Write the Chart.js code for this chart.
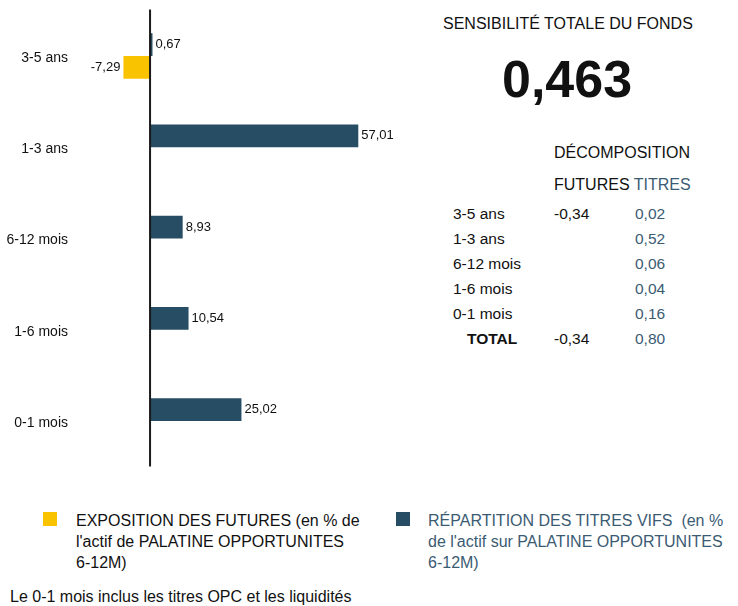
<!DOCTYPE html>
<html>
<head>
<meta charset="utf-8">
<script src="https://cdn.jsdelivr.net/npm/chart.js@4.4.0/dist/chart.umd.min.js"></script>
<style>
  body { margin: 0; width: 738px; height: 606px; background: #fff; font-family: "Liberation Sans", Arial, sans-serif; color: #111; position: relative; overflow: hidden; }
  #chartBox { position: absolute; left: 0; top: -7px; width: 424px; height: 491px; }
  .abs { position: absolute; white-space: nowrap; }
  .titres { color: #3b5b73; }
  .leg { position: absolute; font-size: 16px; line-height: 21px; }
  .sq { position: absolute; width: 14px; height: 14px; }
</style>
</head>
<body>
<div id="chartBox"><canvas id="myChart"></canvas></div>

<div class="abs" style="left:443px; top:15px; font-size:16px;">SENSIBILITÉ TOTALE DU FONDS</div>
<div class="abs" id="total" style="left:502px; top:49px; font-size:52px; font-weight:bold; line-height:60px;"></div>
<div class="abs" style="left:554px; top:144px; font-size:16px;">DÉCOMPOSITION</div>
<div class="abs" style="left:554px; top:176px; font-size:16px;">FUTURES <span class="titres">TITRES</span></div>
<div id="table"></div>

<div class="sq" style="left:43px; top:512px; background:#f9c300;"></div>
<div class="leg" style="left:76px; top:510px;">EXPOSITION DES FUTURES (en % de<br>l'actif de PALATINE OPPORTUNITES<br>6-12M)</div>
<div class="sq" style="left:396px; top:512px; background:#264d63;"></div>
<div class="leg titres" style="left:428px; top:510px;">RÉPARTITION DES TITRES VIFS&nbsp; (en %<br>de l'actif sur PALATINE OPPORTUNITES<br>6-12M)</div>
<div class="abs" style="left:10px; top:588px; font-size:16px;">Le 0-1 mois inclus les titres OPC et les liquidités</div>

<script>
const categories = ['3-5 ans', '1-3 ans', '6-12 mois', '1-6 mois', '0-1 mois'];
const titresValues = [0.67, 57.01, 8.93, 10.54, 25.02];
const futuresValues = [-7.29, null, null, null, null];

const totalSensibilite = '0,463';
const tableLabels = ['3-5 ans', '1-3 ans', '6-12 mois', '1-6 mois', '0-1 mois'];
const futuresSens = ['-0,34', '', '', '', ''];
const titresSens = ['0,02', '0,52', '0,06', '0,04', '0,16'];
const totalFutures = '-0,34';
const totalTitres = '0,80';

const fontFamily = '"Liberation Sans", Arial, sans-serif';

// panneau de droite
document.getElementById('total').textContent = totalSensibilite;
let html = '';
tableLabels.forEach((lab, i) => {
    const y = 205 + i * 25;
    html += `<div class="abs" style="left:453px; top:${y}px; font-size:15.5px;">${lab}</div>`;
    html += `<div class="abs" style="left:554px; top:${y}px; font-size:15.5px;">${futuresSens[i]}</div>`;
    html += `<div class="abs titres" style="left:635px; top:${y}px; font-size:15.5px;">${titresSens[i]}</div>`;
});
const yt = 205 + tableLabels.length * 25;
html += `<div class="abs" style="left:467px; top:${yt}px; font-size:15.5px; font-weight:bold;">TOTAL</div>`;
html += `<div class="abs" style="left:554px; top:${yt}px; font-size:15.5px;">${totalFutures}</div>`;
html += `<div class="abs titres" style="left:635px; top:${yt}px; font-size:15.5px;">${totalTitres}</div>`;
document.getElementById('table').innerHTML = html;

// ligne du zero + etiquettes de valeurs
const zeroAndLabels = {
    id: 'zeroAndLabels',
    afterDatasetsDraw(chart) {
        const ctx = chart.ctx;
        const x0 = chart.scales.x.getPixelForValue(0);
        ctx.save();
        ctx.strokeStyle = '#1a1a1a';
        ctx.lineWidth = 2;
        ctx.beginPath();
        ctx.moveTo(x0, chart.chartArea.top - 1);
        ctx.lineTo(x0, chart.chartArea.bottom);
        ctx.stroke();

        ctx.font = '13px ' + fontFamily;
        ctx.fillStyle = '#111';
        ctx.textBaseline = 'middle';
        chart.data.datasets.forEach((ds, di) => {
            chart.getDatasetMeta(di).data.forEach((bar, i) => {
                const v = ds.data[i];
                if (v === null) return;
                const txt = v.toFixed(2).replace('.', ',');
                if (v >= 0) {
                    ctx.textAlign = 'left';
                    ctx.fillText(txt, bar.x + 3, bar.y);
                } else {
                    ctx.textAlign = 'right';
                    ctx.fillText(txt, bar.x - 3, bar.y);
                }
            });
        });
        ctx.restore();
    }
};

new Chart(document.getElementById('myChart'), {
    type: 'bar',
    data: {
        labels: categories,
        datasets: [{
            label: 'Titres vifs',
            data: titresValues,
            backgroundColor: '#264d63'
        }, {
            label: 'Futures',
            data: futuresValues,
            backgroundColor: '#f9c300'
        }]
    },
    options: {
        indexAxis: 'y',
        responsive: true,
        maintainAspectRatio: false,
        animation: false,
        categoryPercentage: 0.5,
        barPercentage: 1,
        layout: { padding: { top: 2, bottom: 0, left: 0, right: 0 } },
        scales: {
            x: {
                display: false,
                min: -20,
                max: 75
            },
            y: {
                grid: { display: false, drawTicks: false },
                border: { display: false },
                ticks: {
                    padding: 9,
                    labelOffset: 2,
                    color: '#111',
                    font: { size: 14, family: fontFamily }
                },
                afterFit: function (scale) {
                    scale.width = 77;
                }
            }
        },
        plugins: {
            legend: { display: false },
            tooltip: { enabled: false }
        }
    },
    plugins: [zeroAndLabels]
});
</script>
</body>
</html>
